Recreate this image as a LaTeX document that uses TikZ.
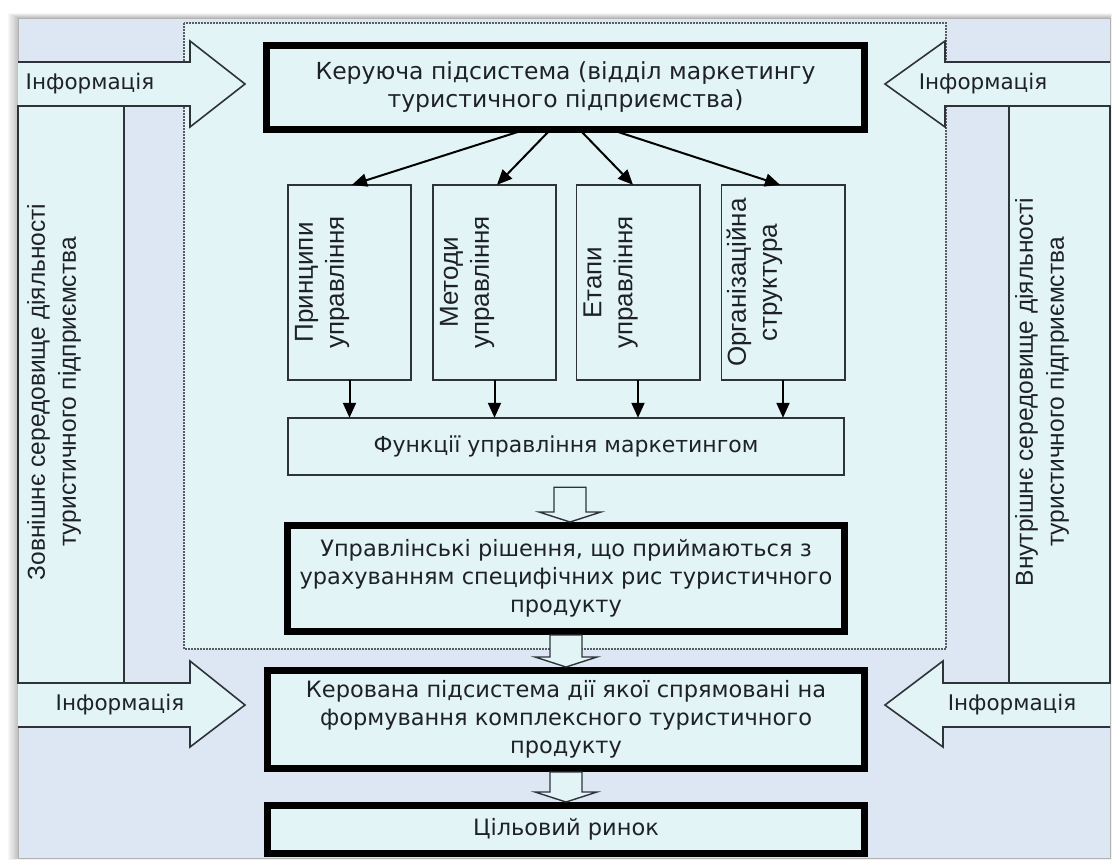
\documentclass[tikz,border=0pt]{standalone}
\usepackage{fontspec}
\setmainfont{DejaVu Sans}
\newfontfamily\arialf{Liberation Sans}
\usetikzlibrary{arrows.meta,calc}
\definecolor{lav}{HTML}{DDE6F3}
\definecolor{cyanbg}{HTML}{E3F4F6}
\definecolor{linec}{HTML}{2E333A}
\definecolor{textc}{HTML}{1E2228}
\newcommand\blockarrow[2]{%
  \draw[barrow] ($(#1)+(-16,0)$) -- ($(#1 |- #2)+(-16,-10)$) -- ($(#1 |- #2)+(-31,-10)$)
    -- (#1 |- #2) -- ($(#1 |- #2)+(31,-10)$) -- ($(#1 |- #2)+(16,-10)$) -- ($(#1)+(16,0)$) -- cycle;}
\begin{document}
\begin{tikzpicture}[x=1pt,y=-1pt,
  thickbox/.style={draw=black,line width=7pt,fill=cyanbg,inner sep=0pt,outer sep=0pt,
    align=center,text=textc,font=\fontsize{22.5}{28}\selectfont},
  thinbox/.style={draw=linec,line width=1.6pt,fill=cyanbg,inner sep=0pt,outer sep=0pt,
    align=center,text=textc,font=\fontsize{22}{28}\selectfont},
  vtext/.style={rotate=90,align=center,inner sep=0pt,text=textc,
    font=\arialf\fontsize{26}{31}\selectfont},
  ptext/.style={rotate=90,align=center,inner sep=0pt,text=textc,
    font=\arialf\fontsize{24.5}{31}\selectfont},
  infotext/.style={inner sep=0pt,text=textc,font=\fontsize{21.5}{24}\selectfont},
  frameshape/.style={draw=linec,line width=1.6pt,fill=cyanbg,line join=miter},
  conn/.style={draw=black,line width=2pt,-{Triangle[length=15pt,width=13pt]}},
  barrow/.style={draw=linec,line width=1.4pt,fill=cyanbg,line join=miter}
]
% page and shadow
\fill[white] (0,0) rectangle (1113,861);
\foreach \i in {1,...,9}
  \fill[black,opacity=0.028] (18-1.1*\i,18-0.5*\i) rectangle (1110+0.2*\i,858+0.2*\i);
% frame
\fill[lav] (18,18) rectangle (1110,858);
\draw[gray!60,line width=0.8pt] (18,18) rectangle (1110,858);
% dashed inner region
\draw[fill=cyanbg,draw=linec!80,line width=1.5pt,dash pattern=on 2pt off 1pt] (184,23) rectangle (946,649);
% side panels
\draw[frameshape] (18,106) rectangle (124,683);
\draw[frameshape] (1009,106) rectangle (1110,683);
% information arrows
\draw[frameshape] (18,62) -- (190,62) -- (190,41) -- (245,84) -- (190,127) -- (190,106) -- (18,106);
\draw[frameshape] (18,683) -- (190,683) -- (190,661) -- (245,705) -- (190,747) -- (190,727) -- (18,727);
\draw[frameshape] (1110,62) -- (945,62) -- (945,41) -- (885,84) -- (945,127) -- (945,106) -- (1110,106);
\draw[frameshape] (1110,683) -- (943,683) -- (943,661) -- (885,705) -- (943,747) -- (943,727) -- (1110,727);
\node[infotext] (info1) at (90,84) {Інформація};
\node[infotext] (info2) at (120,705) {Інформація};
\node[infotext] (info3) at (983,84) {Інформація};
\node[infotext] (info4) at (1012,705) {Інформація};
% panel texts
\node[ptext] (ext) at (54,392) {Зовнішнє середовище діяльності\\туристичного підприємства};
\node[ptext] (int) at (1042,392) {Внутрішнє середовище діяльності\\туристичного підприємства};
% main boxes
\node[thickbox,minimum width=598,minimum height=84,font=\fontsize{23.5}{28}\selectfont] (top) at (565.5,87.5)
  {Керуюча підсистема (відділ маркетингу\\туристичного підприємства)};
\node[thinbox,minimum width=123.4,minimum height=195.4] (b1) at (349.5,282.5) {};
\node[thinbox,minimum width=123.4,minimum height=195.4] (b2) at (494.5,282.5) {};
\node[thinbox,minimum width=123.4,minimum height=195.4] (b3) at (638,282.5) {};
\node[thinbox,minimum width=123.4,minimum height=195.4] (b4) at (783,282.5) {};
\node[vtext,anchor=north] (t1) at ($(b1.west)+(7,0)$) {Принципи\\управління};
\node[vtext,anchor=north] (t2) at ($(b2.west)+(7,0)$) {Методи\\управління};
\node[vtext,anchor=north] (t3) at ($(b3.west)+(7,0)$) {Етапи\\управління};
\node[vtext,anchor=north] (t4) at ($(b4.west)+(5,0)$) {Організаційна\\структура};
\node[thinbox,minimum width=556.4,minimum height=57.4] (funk) at (566,446.5)
  {\raisebox{3pt}{Функції управління маркетингом}};
\node[thickbox,minimum width=557,minimum height=106] (upr) at (566,578.5)
  {Управлінські рішення, що приймаються з\\урахуванням специфічних рис туристичного\\продукту};
\node[thickbox,minimum width=597,minimum height=98] (ker) at (566,719.5)
  {Керована підсистема дії якої спрямовані на\\формування комплексного туристичного\\продукту};
\node[thickbox,minimum width=597,minimum height=48] (cil) at (566,829.5) {Цільовий ринок};
% connectors from top box
\draw[conn] ([xshift=-40]top.south) -- ([xshift=2.5]b1.north);
\draw[conn] ([xshift=-15]top.south) -- ([xshift=2.5]b2.north);
\draw[conn] ([xshift=14]top.south) -- ([xshift=-5]b3.north);
\draw[conn] ([xshift=45]top.south) -- ([xshift=-3]b4.north);
\foreach \b in {b1,b2,b3,b4}
  \draw[conn] (\b.south) -- (\b.south |- funk.north);
% block arrows
\coordinate (a1s) at ($(funk.south)+(4,12)$);
\coordinate (a1t) at ($(upr.north)+(4,-3.5)$);
\coordinate (a2s) at ($(upr.south)+(0,3.5)$);
\coordinate (a2t) at ($(ker.north)+(0,-3.5)$);
\coordinate (a3s) at ($(ker.south)+(0,3.5)$);
\coordinate (a3t) at ($(cil.north)+(0,-3.5)$);
\blockarrow{a1s}{a1t}
\blockarrow{a2s}{a2t}
\blockarrow{a3s}{a3t}
\end{tikzpicture}
\end{document}
